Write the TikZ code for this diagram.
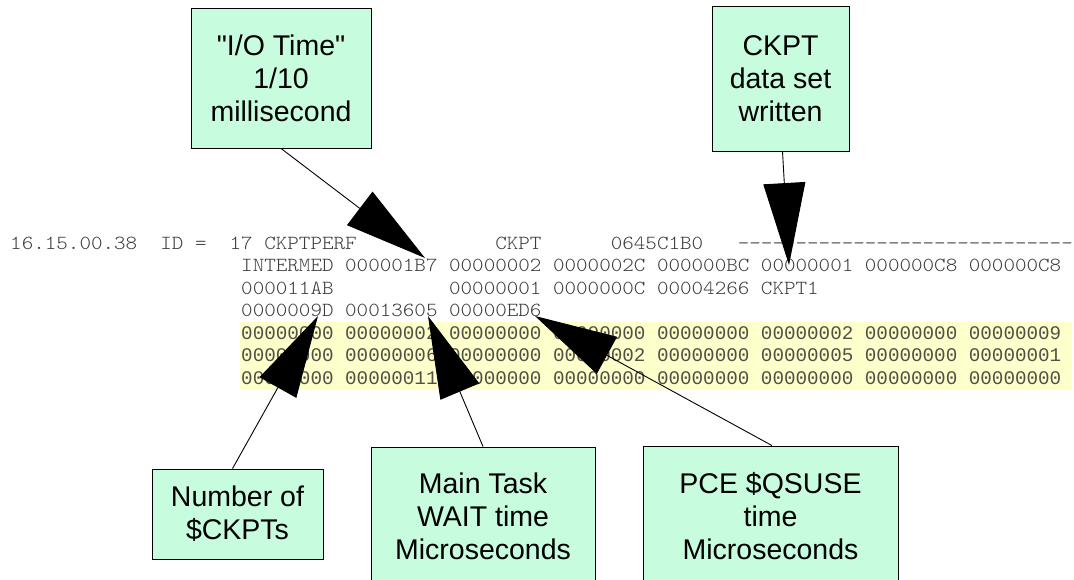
\documentclass[tikz,border=0pt]{standalone}
\usepackage{fontspec}
\usetikzlibrary{arrows.meta}
\newfontfamily\boxfont{Liberation Sans}
\newfontfamily\yfont{Liberation Mono}
\newfontfamily\cfont[FakeStretch=1.1]{lmmonolt10-regular.otf}
\definecolor{mint}{RGB}{200,252,222}
\definecolor{ybg}{RGB}{255,255,204}
\definecolor{ctext}{RGB}{60,60,60}
\definecolor{ytext}{RGB}{80,80,70}
\newcommand\cw{11.55}
\begin{document}
\begin{tikzpicture}[x=1pt,y=-1pt,
  box/.style={draw=black,line width=0.9pt,fill=mint,inner sep=0pt,align=center,font={\boxfont\fontsize{28.5}{33}\selectfont}},
  ctok/.style={anchor=base west,inner sep=0pt,text=ctext,font={\cfont\fontsize{20}{22}\selectfont}},
  ytok/.style={anchor=base west,inner sep=0pt,text=ytext,font={\yfont\fontsize{19.25}{22}\selectfont}},
  arr/.style={line width=0.9pt,-{Triangle[length=82pt,width=42pt]}}]
\useasboundingbox (0,0) rectangle (1074,579);
\clip (0,0) rectangle (1074,579);
% yellow band
\fill[ybg] (240,322) rectangle (1072,390);
% line 1
\node[ctok] (l1a) at ({10+0*\cw},249) {16.15.00.38};
\node[ctok] (l1b) at ({10+13*\cw},249) {ID};
\node[ctok] (l1c) at ({10+16*\cw},249) {=};
\node[ctok] (l1d) at ({10+19*\cw},249) {17};
\node[ctok] (l1e) at ({10+22*\cw},249) {CKPTPERF};
\node[ctok] (l1f) at ({10+42*\cw},249) {CKPT};
\node[ctok] (l1g) at ({10+52*\cw},249) {0645C1B0};
\foreach \k in {0,...,28}
  \node[ctok] (dash\k) at ({10+(63+\k)*\cw},249) {-};
% line 2
\foreach \t [count=\i from 0] in {INTERMED,000001B7,00000002,0000002C,000000BC,00000001,000000C8,000000C8}
  \node[ctok] (l2-\i) at ({10+(20+9*\i)*\cw},271.5) {\t};
% line 3
\node[ctok] (l3a) at ({10+20*\cw},294) {000011AB};
\foreach \t [count=\i from 2] in {00000001,0000000C,00004266,CKPT1}
  \node[ctok] (l3-\i) at ({10+(20+9*\i)*\cw},294) {\t};
% line 4
\foreach \t [count=\i from 0] in {0000009D,00013605,00000ED6}
  \node[ctok] (l4-\i) at ({10+(20+9*\i)*\cw},316.5) {\t};
% yellow rows
\foreach \t [count=\i from 0] in {00000000,00000002,00000000,00000000,00000000,00000002,00000000,00000009}
  \node[ytok] (y1-\i) at ({10+(20+9*\i)*\cw},339) {\t};
\foreach \t [count=\i from 0] in {00000000,00000006,00000000,00000002,00000000,00000005,00000000,00000001}
  \node[ytok] (y2-\i) at ({10+(20+9*\i)*\cw},361.5) {\t};
\foreach \t [count=\i from 0] in {00000000,00000011,00000000,00000000,00000000,00000000,00000000,00000000}
  \node[ytok] (y3-\i) at ({10+(20+9*\i)*\cw},384) {\t};
% boxes
\node[box,minimum width=180pt,minimum height=140pt] (io) at (281,78) {"I/O Time"\\1/10\\millisecond};
\node[box,minimum width=137pt,minimum height=145pt] (ck) at (780.5,78.5) {CKPT\\data set\\written};
\node[box,minimum width=171pt,minimum height=90pt] (num) at (237.5,514) {Number of\\\$CKPTs};
\node[box,minimum width=224pt,minimum height=138pt] (main) at (483,516) {Main Task\\WAIT time\\Microseconds};
\node[box,minimum width=255pt,minimum height=140pt] (pce) at (770.5,516) {PCE \$QSUSE\\time\\Microseconds};
% arrow tips
\coordinate (t1) at (425,258);
\coordinate (t2) at (789,265);
\coordinate (t3) at (318,316);
\coordinate (t4) at (428,316);
\coordinate (t5) at (535,316);
\draw[arr] (io.south) -- (t1);
\draw[arr] ([xshift=2pt]ck.south) -- (t2);
\draw[arr] ([xshift=-5pt]num.north) -- (t3);
\draw[arr] (main.north) -- (t4);
\draw[arr] ([xshift=1.5pt]pce.north) -- (t5);
\end{tikzpicture}
\end{document}
